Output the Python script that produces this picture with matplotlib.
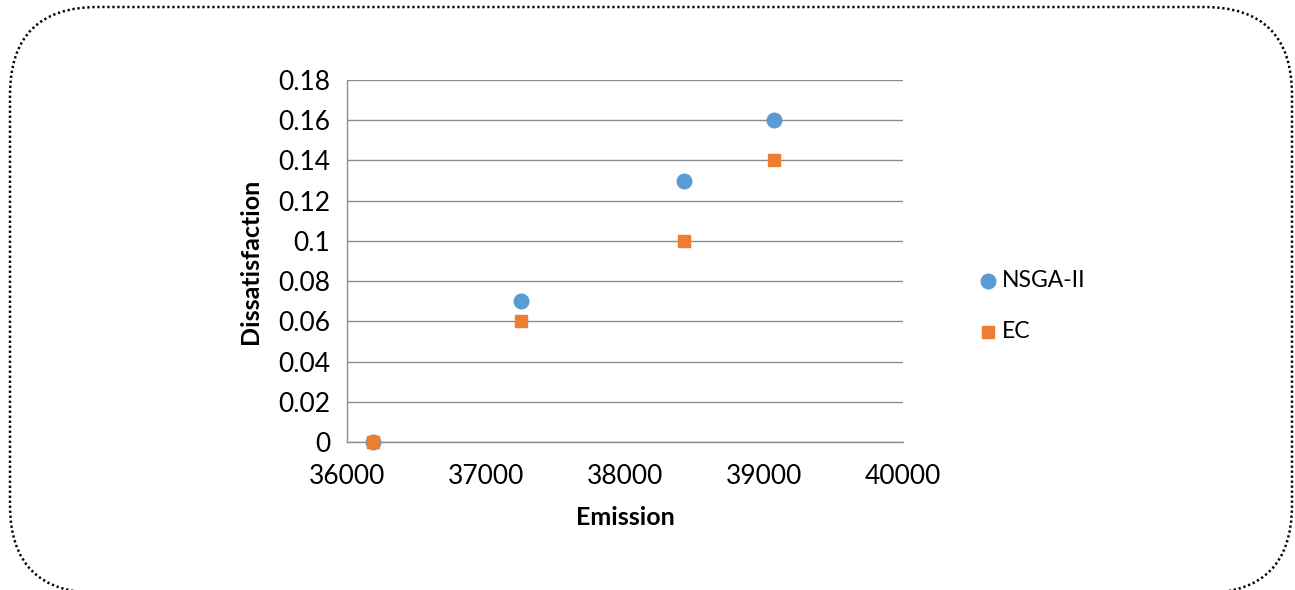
# Emission vs Dissatisfaction scatter (NSGA-II vs EC)

import numpy as np
import matplotlib.pyplot as plt
from matplotlib.patches import FancyBboxPatch

# data
emission = [36190, 37250, 38425, 39075]
nsga_dissat = [0, 0.07, 0.13, 0.16]
ec_dissat = [0, 0.06, 0.10, 0.14]
x_ticks = [36000, 37000, 38000, 39000, 40000]
y_ticks = [0, 0.02, 0.04, 0.06, 0.08, 0.1, 0.12, 0.14, 0.16, 0.18]
y_tick_labels = ['0', '0.02', '0.04', '0.06', '0.08', '0.1', '0.12', '0.14', '0.16', '0.18']

plt.rcParams['font.family'] = ['Lato', 'DejaVu Sans']

W, H = 1295, 590
fig = plt.figure(figsize=(W / 100, H / 100), dpi=100)

# dotted rounded frame, drawn in pixel coordinates (y up)
bg = fig.add_axes([0, 0, 1, 1])
bg.set_xlim(0, W)
bg.set_ylim(0, H)
bg.axis('off')
frame = FancyBboxPatch((10, -3), 1282, H - 7 + 3, boxstyle='round,pad=0,rounding_size=88',
                       fill=False, edgecolor='black', linewidth=1.8,
                       linestyle=(0, (0.9, 1.1)))
bg.add_patch(frame)

ax = fig.add_axes([347 / W, 1 - 442 / H, (903 - 347) / W, (442 - 80) / H])
ax.set_xlim(36000, 40000)
ax.set_ylim(0, 0.18)
ax.set_yticks(y_ticks)
ax.set_yticklabels(y_tick_labels)
ax.set_xticks(x_ticks)
ax.yaxis.grid(True, color='#8c8c8c', linewidth=1.0)
ax.set_axisbelow(True)
ax.tick_params(length=0, labelsize=19)
ax.tick_params(axis='y', pad=12)
ax.tick_params(axis='x', pad=16)
for s in ['top', 'right']:
    ax.spines[s].set_visible(False)
for s in ['left', 'bottom']:
    ax.spines[s].set_color('#8c8c8c')
    ax.spines[s].set_linewidth(1.0)

ax.scatter(emission, nsga_dissat, s=110, marker='o', color='#5b9bd5', label='NSGA-II', zorder=3, clip_on=False)
ax.scatter(emission, ec_dissat, s=70, marker='s', color='#ed7d31', label='EC', zorder=4, clip_on=False)

ax.set_xlabel('Emission', fontsize=18, fontweight='bold', labelpad=12)
ax.set_ylabel('Dissatisfaction', fontsize=18, fontweight='bold', labelpad=12)

ax.legend(loc='center left', bbox_to_anchor=(1.095, 0.375), frameon=False, fontsize=16.5,
          handletextpad=0.1, labelspacing=1.3, markerscale=1.0, handlelength=1.0)

plt.savefig('out.png', dpi=100)
